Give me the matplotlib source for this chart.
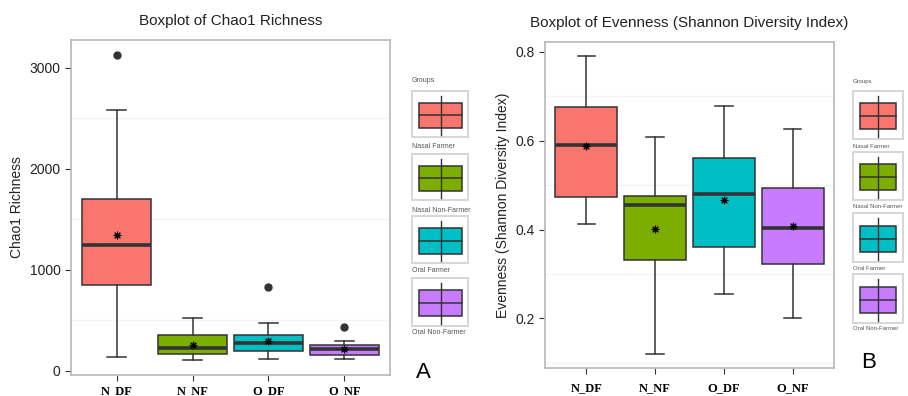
import matplotlib
matplotlib.use("Agg")
import matplotlib.pyplot as plt
from matplotlib.patches import Rectangle
from matplotlib.lines import Line2D

plt.rcParams['font.family'] = ['Liberation Sans', 'DejaVu Sans']

groups = ['N_DF', 'N_NF', 'O_DF', 'O_NF']
legend_labels = ['Nasal Farmer', 'Nasal Non-Farmer', 'Oral Farmer', 'Oral Non-Farmer']
colors = ['#F8766D', '#7CAE00', '#00BFC4', '#C77CFF']

# Chao1 richness: whisker low, Q1, median, Q3, whisker high, mean, outliers
chao_low = [142, 106, 116, 122]
chao_q1 = [848, 165, 195, 162]
chao_med = [1251, 228, 277, 215]
chao_q3 = [1700, 360, 356, 261]
chao_high = [2584, 528, 479, 300]
chao_mean = [1343, 254, 294, 215]
chao_out = [[3125], [], [828], [432]]

# Evenness (Shannon)
even_low = [0.4115, 0.1205, 0.255, 0.200]
even_q1 = [0.474, 0.3305, 0.361, 0.3215]
even_med = [0.591, 0.455, 0.481, 0.4025]
even_q3 = [0.6755, 0.476, 0.561, 0.494]
even_high = [0.790, 0.6095, 0.678, 0.6275]
even_mean = [0.588, 0.401, 0.466, 0.4085]
even_out = [[], [], [], []]

W, H = 908, 396
fig = plt.figure(figsize=(W / 100, H / 100), dpi=100)

EDGE = '#333333'


def px_axes(x0, y0, x1, y1):
    return fig.add_axes([x0 / W, 1 - y1 / H, (x1 - x0) / W, (y1 - y0) / H])


def panel(ax, low, q1, med, q3, high, mean, out, ylim, yticks, minor, title, ylabel, xpad):
    stats = []
    for i in range(len(groups)):
        stats.append(dict(whislo=low[i], q1=q1[i], med=med[i], q3=q3[i],
                          whishi=high[i], fliers=out[i], label=groups[i]))
    for m in minor:
        ax.axhline(m, color='#F4F4F4', lw=1, zorder=0)
    pos = list(range(1, len(groups) + 1))
    b = ax.bxp(stats, positions=pos, widths=0.9, patch_artist=True,
               capwidths=0.25, showfliers=True,
               boxprops=dict(edgecolor=EDGE, linewidth=1.1),
               medianprops=dict(color=EDGE, linewidth=2.6),
               whiskerprops=dict(color=EDGE, linewidth=1.1),
               capprops=dict(color=EDGE, linewidth=1.1),
               flierprops=dict(marker='o', markerfacecolor=EDGE, markeredgecolor=EDGE,
                               markersize=5))
    for patch, c in zip(b['boxes'], colors):
        patch.set_facecolor(c)
    ax.scatter(pos, mean, marker=(8, 2, 0), s=24, color='black', linewidths=0.8, zorder=5)
    ax.set_xlim(0.4, 4.6)
    ax.set_ylim(*ylim)
    ax.set_yticks(yticks)
    ax.set_xticks(pos)
    ax.set_xticklabels(groups, family=['Liberation Serif'], fontweight='bold', fontsize=9)
    ax.tick_params(axis='x', length=4, color=EDGE, pad=xpad)
    ax.tick_params(axis='y', length=4, color=EDGE, labelsize=10, labelcolor='#222222')
    for s in ax.spines.values():
        s.set_color('#B8B8B8')
        s.set_linewidth(1.2)
    ax.set_title(title, fontsize=11, pad=11, color='#222222')
    ax.set_ylabel(ylabel, fontsize=10, color='#222222')


axA = px_axes(71, 40, 390, 375)
panel(axA, chao_low, chao_q1, chao_med, chao_q3, chao_high, chao_mean, chao_out,
      (-40, 3277), [0, 1000, 2000, 3000], [500, 1500, 2500],
      'Boxplot of Chao1 Richness', 'Chao1 Richness', 3)

axB = px_axes(545, 42, 834, 368)
panel(axB, even_low, even_q1, even_med, even_q3, even_high, even_mean, even_out,
      (0.088, 0.8225), [0.2, 0.4, 0.6, 0.8], [0.1, 0.3, 0.5, 0.7],
      'Boxplot of Evenness (Shannon Diversity Index)', 'Evenness (Shannon Diversity Index)', 6)


def legend(x0, x1, keys_y, label_y, title_y, bx0, bx1, fs):
    lax = fig.add_axes([0, 0, 1, 1])
    lax.set_xlim(0, W)
    lax.set_ylim(H, 0)
    lax.axis('off')
    lax.text(x0, title_y, 'Groups', fontsize=fs, color='#555555', va='center')
    for (ky0, ky1), ly, c, lab in zip(keys_y, label_y, colors, legend_labels):
        lax.add_patch(Rectangle((x0, ky0), x1 - x0, ky1 - ky0, fill=False,
                                edgecolor='#D6D6D6', lw=1.4))
        h = ky1 - ky0
        cx = (bx0 + bx1) / 2
        by0 = ky0 + h * 0.26
        by1 = ky0 + h * 0.8
        lax.add_line(Line2D([cx, cx], [ky0 + h * 0.1, ky0 + h * 0.96], color=EDGE, lw=1))
        lax.add_patch(Rectangle((bx0, by0), bx1 - bx0, by1 - by0, facecolor=c,
                                edgecolor=EDGE, lw=1.1))
        my = (by0 + by1) / 2
        lax.add_line(Line2D([bx0, bx1], [my, my], color=EDGE, lw=1.1))
        lax.text(x0, ly, lab, fontsize=fs, color='#555555', va='center')
    return lax


legend(412, 468, [(91, 137), (154, 200), (216, 263), (278, 326)],
       [147, 210, 271, 333], 81, 419, 462, 5)
lb = legend(853, 903, [(91, 139), (152, 200), (213, 262), (274, 323)],
            [146, 207, 268, 329], 82, 860, 896, 4.3)

lb.text(423, 372, 'A', fontsize=16, ha='center', va='center')
lb.text(869, 363, 'B', fontsize=16, ha='center', va='center')

fig.savefig('out.png', dpi=100)
